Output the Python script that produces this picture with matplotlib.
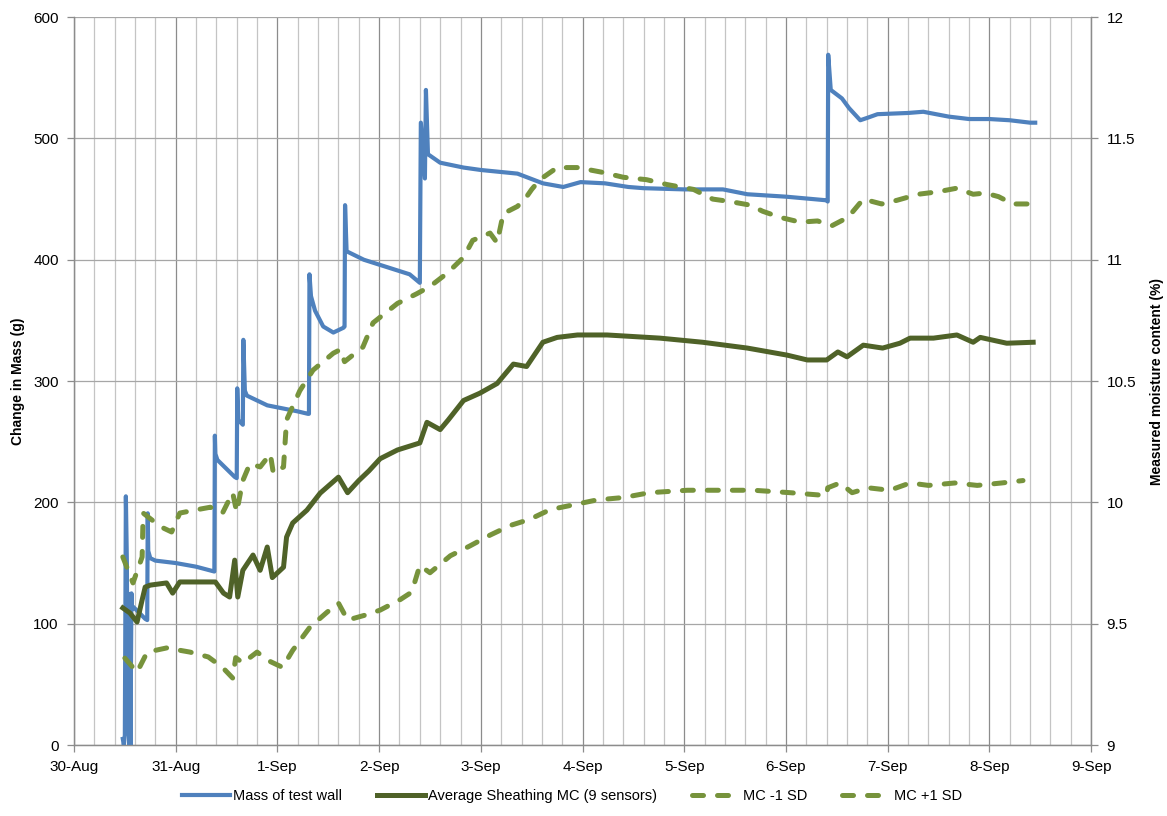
import pandas as pd
import matplotlib
matplotlib.use('Agg')
import matplotlib.dates as mdates
import matplotlib.pyplot as plt
from matplotlib.ticker import MultipleLocator

plt.rcParams['font.family'] = ['Liberation Sans', 'DejaVu Sans']

start = pd.Timestamp('2013-08-30')

# mass of test wall (days after 30-Aug, grams)
mass_days = [0.48, 0.49, 0.50, 0.51, 0.52, 0.525, 0.53, 0.54, 0.545, 0.55, 0.555, 0.565, 0.57,
             0.58, 0.63, 0.70, 0.72, 0.725, 0.73, 0.75, 0.80, 1.00, 1.20, 1.38, 1.385, 1.39,
             1.41, 1.58, 1.60, 1.605, 1.615, 1.66, 1.665, 1.68, 1.70, 1.90, 2.20, 2.30, 2.31,
             2.315, 2.33, 2.37, 2.45, 2.55, 2.65, 2.66, 2.665, 2.68, 2.85, 3.00, 3.15, 3.30,
             3.40, 3.41, 3.45, 3.46, 3.48, 3.60, 3.83, 4.00, 4.36, 4.61, 4.81, 4.98, 5.22,
             5.45, 5.60, 6.00, 6.38, 6.62, 7.00, 7.40, 7.41, 7.415, 7.44, 7.55, 7.62, 7.73,
             7.80, 7.90, 8.20, 8.35, 8.60, 8.80, 9.00, 9.20, 9.40, 9.45]
mass_vals = [5, 0, 8, 205, 150, 60, 125, 10, 0, 110, 0, 125, 112,
             114, 110, 104, 103, 191, 160, 154, 152, 150, 147, 143, 255, 240,
             235, 221, 220, 294, 268, 264, 334, 292, 288, 280, 275, 273, 273,
             388, 370, 358, 345, 340, 344, 345, 445, 407, 400, 396, 392, 388,
             381, 513, 467, 540, 487, 480, 476, 474, 471, 463, 460, 464, 463,
             460, 459, 458, 458, 454, 452, 449, 448, 569, 540, 533, 525, 515,
             517, 520, 521, 522, 518, 516, 516, 515, 513, 513]

# average sheathing MC (%)
avg_days = [0.48, 0.55, 0.62, 0.67, 0.70, 0.75, 0.91, 0.97, 1.04, 1.24, 1.39, 1.47, 1.53,
            1.58, 1.61, 1.66, 1.76, 1.83, 1.90, 1.95, 2.06, 2.09, 2.15, 2.29, 2.42, 2.60,
            2.69, 2.80, 2.90, 3.01, 3.18, 3.40, 3.47, 3.60, 3.68, 3.83, 3.99, 4.16, 4.32,
            4.45, 4.61, 4.75, 4.95, 5.24, 5.76, 6.18, 6.62, 7.01, 7.21, 7.40, 7.51, 7.60,
            7.76, 7.95, 8.12, 8.22, 8.45, 8.68, 8.84, 8.91, 9.17, 9.43]
avg_vals = [9.565, 9.544, 9.507, 9.598, 9.651, 9.659, 9.668, 9.626, 9.672, 9.672, 9.672, 9.626, 9.61,
            9.762, 9.61, 9.72, 9.783, 9.72, 9.816, 9.69, 9.733, 9.857, 9.915, 9.968, 10.038, 10.104,
            10.04, 10.09, 10.13, 10.18, 10.216, 10.245, 10.33, 10.30, 10.34, 10.42, 10.45, 10.49, 10.57,
            10.56, 10.66, 10.68, 10.69, 10.69, 10.677, 10.66, 10.636, 10.607, 10.587, 10.587, 10.62, 10.60,
            10.648, 10.636, 10.656, 10.677, 10.677, 10.69, 10.66, 10.68, 10.656, 10.66]

# MC +1 SD
plus_days = [0.48, 0.58, 0.67, 0.68, 0.85, 0.96, 1.04, 1.21, 1.34, 1.46, 1.56, 1.60, 1.66,
             1.73, 1.83, 1.93, 1.96, 2.06, 2.09, 2.22, 2.35, 2.55, 2.62, 2.66, 2.84, 2.94,
             3.18, 3.37, 3.50, 3.67, 3.83, 3.92, 4.09, 4.16, 4.22, 4.36, 4.45, 4.50, 4.58,
             4.75, 4.95, 5.20, 5.40, 5.63, 5.83, 6.09, 6.28, 6.45, 6.65, 6.77, 6.94, 7.14,
             7.31, 7.45, 7.61, 7.76, 7.94, 8.09, 8.30, 8.49, 8.68, 8.84, 8.96, 9.09, 9.23, 9.40]
plus_vals = [9.775, 9.668, 9.775, 9.956, 9.90, 9.878, 9.956, 9.97, 9.98, 9.956, 10.04, 9.96, 10.09,
             10.16, 10.146, 10.20, 10.12, 10.146, 10.34, 10.46, 10.545, 10.615, 10.63, 10.58, 10.64, 10.74,
             10.82, 10.86, 10.89, 10.945, 11.01, 11.08, 11.11, 11.07, 11.19, 11.22, 11.26, 11.29, 11.33,
             11.38, 11.38, 11.36, 11.34, 11.33, 11.31, 11.29, 11.25, 11.24, 11.225, 11.20, 11.175, 11.155,
             11.16, 11.14, 11.175, 11.25, 11.23, 11.245, 11.27, 11.28, 11.295, 11.27, 11.275, 11.26, 11.23, 11.23]

# MC -1 SD
minus_days = [0.50, 0.62, 0.72, 0.91, 1.14, 1.32, 1.46, 1.56, 1.59, 1.66, 1.80, 1.90, 2.05,
              2.15, 2.32, 2.49, 2.60, 2.69, 2.86, 3.01, 3.21, 3.32, 3.40, 3.50, 3.70, 3.89,
              4.09, 4.29, 4.48, 4.68, 4.91, 5.14, 5.40, 5.66, 6.03, 6.35, 6.68, 7.04, 7.34,
              7.40, 7.41, 7.53, 7.65, 7.81, 8.02, 8.22, 8.40, 8.66, 8.88, 9.12, 9.33]
minus_vals = [9.358, 9.30, 9.383, 9.40, 9.383, 9.363, 9.32, 9.276, 9.36, 9.338, 9.383, 9.35, 9.32,
              9.39, 9.486, 9.548, 9.585, 9.515, 9.535, 9.556, 9.60, 9.63, 9.74, 9.71, 9.78, 9.82,
              9.865, 9.905, 9.93, 9.97, 9.99, 10.01, 10.02, 10.04, 10.05, 10.05, 10.05, 10.04, 10.03,
              10.03, 10.06, 10.08, 10.04, 10.06, 10.05, 10.08, 10.07, 10.08, 10.07, 10.08, 10.09]


def to_dates(days):
    return start + pd.to_timedelta(days, unit='D')


fig = plt.figure(figsize=(11.67, 8.16), dpi=100)
ax = fig.add_axes([0.0634, 0.087, 0.8716, 0.892])
ax2 = ax.twinx()

grid_major = '#8c8c8c'
grid_minor = '#c4c4c4'

ax.plot(to_dates(mass_days), mass_vals, color='#4f81bd', lw=3.0, label='Mass of test wall',
        solid_joinstyle='round', zorder=3)
ax2.plot(to_dates(avg_days), avg_vals, color='#4f6228', lw=3.6,
         label='Average Sheathing MC (9 sensors)', solid_joinstyle='round')
ax2.plot(to_dates(minus_days), minus_vals, color='#77933c', lw=3.6, label='MC -1 SD',
         dashes=(2.2, 2.8), dash_capstyle='round')
ax2.plot(to_dates(plus_days), plus_vals, color='#77933c', lw=3.6, label='MC +1 SD',
         dashes=(2.2, 2.8), dash_capstyle='round')

ax.set_xlim(start, start + pd.Timedelta(days=10))
ax.set_ylim(0, 600)
ax2.set_ylim(9, 12)
ax.yaxis.set_major_locator(MultipleLocator(100))
ax2.yaxis.set_major_locator(MultipleLocator(0.5))
ax2.yaxis.set_major_formatter(plt.FuncFormatter(lambda v, p: f'{v:g}'))

ax.xaxis.set_major_locator(mdates.DayLocator())
ax.xaxis.set_major_formatter(mdates.DateFormatter('%-d-%b'))
ax.xaxis.set_minor_locator(MultipleLocator(0.2))

ax.grid(which='major', axis='x', color=grid_major, lw=0.9)
ax.grid(which='minor', axis='x', color=grid_minor, lw=0.9)
ax.grid(which='major', axis='y', color='#a6a6a6', lw=0.9)
ax.set_axisbelow(True)

for a in (ax, ax2):
    a.spines['top'].set_visible(False)
    for s in ('left', 'bottom', 'right'):
        a.spines[s].set_color(grid_major)
        a.spines[s].set_linewidth(0.9)
    a.tick_params(which='major', length=5, color=grid_major, labelsize=11, width=0.9)
    a.tick_params(which='minor', length=0)
ax.tick_params(axis='x', pad=6)
ax.tick_params(axis='y', pad=6)
ax2.tick_params(axis='y', pad=6)

ax.set_ylabel('Change in Mass (g)', fontsize=10, fontweight='bold', labelpad=6)
ax2.set_ylabel('Measured moisture content (%)', fontsize=10, fontweight='bold', labelpad=10)

h1, l1 = ax.get_legend_handles_labels()
h2, l2 = ax2.get_legend_handles_labels()
fig.legend(h1 + h2, l1 + l2, loc='lower center', ncol=4, frameon=False, fontsize=10.5,
           bbox_to_anchor=(0.49, 0.0), handlelength=3.3, columnspacing=2.4, handletextpad=0.2)

fig.savefig('out.png', dpi=100)
